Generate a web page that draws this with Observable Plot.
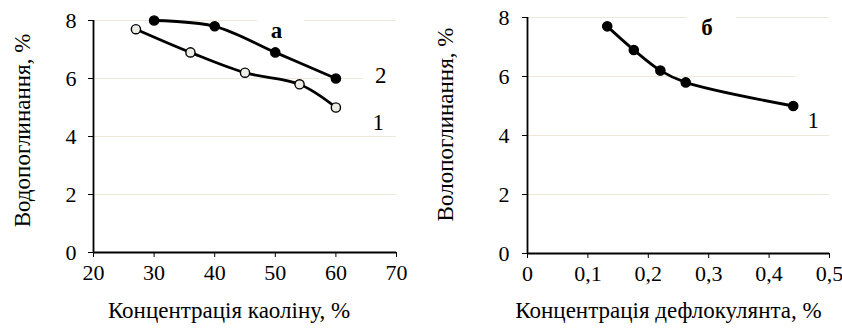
<!DOCTYPE html>
<html>
<head>
<meta charset="utf-8">
<script src="https://cdn.jsdelivr.net/npm/d3@7"></script>
<script src="https://cdn.jsdelivr.net/npm/@observablehq/plot@0.6"></script>
<style>
  html, body { margin: 0; padding: 0; background: #fff; }
  #wrap { display: flex; width: 842px; height: 329px; overflow: hidden; }
  #wrap svg { display: block; flex: none; }
</style>
</head>
<body>
<div id="wrap"></div>
<script>
// ---- Panel а: kaolin concentration ----
const kaolin1 = [27, 36, 45, 54, 60];
const water1 = [7.7, 6.9, 6.2, 5.8, 5.0];
const kaolin2 = [30, 40, 50, 60];
const water2 = [8.0, 7.8, 6.9, 6.0];
const xTicksA = [20, 30, 40, 50, 60, 70];
const yTicks = [0, 2, 4, 6, 8];

// ---- Panel б: deflocculant concentration ----
const defloc = [0.132, 0.176, 0.22, 0.262, 0.44];
const waterB = [7.7, 6.9, 6.2, 5.8, 5.0];
const xTicksB = [0, 0.1, 0.2, 0.3, 0.4, 0.5];

// axis titles
const yTitleA = "Водопоглинання, %";
const xTitleA = "Концентрація каоліну, %";
const yTitleB = "Волопоглинання, %";
const xTitleB = "Концентрація дефлокулянта, %";

// annotation labels (data units)
const labelsA = [
  {x: 50.2, y: 7.65, text: "а", bold: true},
  {x: 67.4, y: 6.1, text: "2", bold: false},
  {x: 67.0, y: 4.48, text: "1", bold: false}
];
const labelsB = [
  {x: 0.297, y: 7.67, text: "б", bold: true},
  {x: 0.473, y: 4.5, text: "1", bold: false}
];
// gridline segments (interrupted behind the label boxes)
const gridA = [
  {y: 2, x1: 20, x2: 70}, {y: 4, x1: 20, x2: 70},
  {y: 6, x1: 20, x2: 64.4},
  {y: 8, x1: 20, x2: 47.1}, {y: 8, x1: 54.8, x2: 70}
];
const gridB = [
  {y: 2, x1: 0, x2: 0.5}, {y: 4, x1: 0, x2: 0.5},
  {y: 6, x1: 0, x2: 0.444},
  {y: 8, x1: 0, x2: 0.264}, {y: 8, x1: 0.346, x2: 0.5}
];

const FONT = "Liberation Serif";
const GRID = "#ece8da";
const TICK_SIZE = 22;
const TITLE_SIZE = 23;
const LABEL_SIZE = 23;

const s1 = kaolin1.map((x, i) => ({x, y: water1[i]}));
const s2 = kaolin2.map((x, i) => ({x, y: water2[i]}));
const sB = defloc.map((x, i) => ({x, y: waterB[i]}));

const commaFmt = d => d === 0 ? "0" : d3.format(".1f")(d).replace(".", ",");

function panel(o) {
  const txt = {fontFamily: FONT, fill: "black"};
  const marks = [
    Plot.ruleY(o.grid, {y: "y", x1: "x1", x2: "x2", stroke: GRID, strokeWidth: 1.2}),
    Plot.axisY({ticks: yTicks, tickSize: 5, tickFormat: () => "", label: null}),
    Plot.axisX({ticks: o.xTicks, tickSize: 5, tickFormat: () => "", label: null}),
    Plot.ruleX([o.xDomain[0]], {stroke: "black", strokeWidth: 1.8}),
    Plot.ruleY([0], {stroke: "black", strokeWidth: 1.8}),
    // tick labels
    Plot.text(yTicks, {...txt, y: d => d, text: d => String(d), frameAnchor: "left", textAnchor: "end", dx: o.yTickDx, fontSize: TICK_SIZE}),
    Plot.text(o.xTicks, {...txt, x: d => d, text: o.xFmt, frameAnchor: "bottom", textAnchor: "middle", dy: 27, fontSize: TICK_SIZE}),
    // axis titles
    Plot.text([o.yTitle], {...txt, text: d => d, frameAnchor: "left", textAnchor: "middle", rotate: -90, dx: o.yTitleDx, dy: o.yTitleDy, fontSize: TITLE_SIZE}),
    Plot.text([o.xTitle], {...txt, text: d => d, frameAnchor: "bottom", textAnchor: "middle", dx: o.xTitleDx, dy: o.xTitleDy, fontSize: TITLE_SIZE})
  ];
  for (const s of o.series) {
    marks.push(Plot.line(s.data, {x: "x", y: "y", curve: "catmull-rom", stroke: "black", strokeWidth: 2.8}));
    marks.push(Plot.dot(s.data, {x: "x", y: "y", r: 4.6, fill: s.fill, stroke: "black", strokeWidth: 1.4}));
  }
  marks.push(Plot.text(o.labels.filter(d => d.bold), {...txt, x: "x", y: "y", text: "text", fontSize: LABEL_SIZE, fontWeight: "bold"}));
  marks.push(Plot.text(o.labels.filter(d => !d.bold), {...txt, x: "x", y: "y", text: "text", fontSize: LABEL_SIZE}));
  return Plot.plot({
    width: o.width, height: 329,
    marginLeft: o.marginLeft, marginRight: o.marginRight, marginTop: o.marginTop, marginBottom: o.marginBottom,
    style: {fontFamily: FONT, color: "black", background: "white", overflow: "visible"},
    x: {domain: o.xDomain},
    y: {domain: [0, 8]},
    marks
  });
}

const wrap = document.getElementById("wrap");
wrap.appendChild(panel({
  width: 420, marginLeft: 93, marginRight: 24, marginTop: 20, marginBottom: 77,
  xDomain: [20, 70], xTicks: xTicksA, xFmt: d => String(d),
  yTitle: yTitleA, xTitle: xTitleA,
  yTickDx: -17, yTitleDx: -71, yTitleDy: -6, xTitleDx: -16, xTitleDy: 65,
  grid: gridA,
  series: [{data: s1, fill: "#eeeee6"}, {data: s2, fill: "black"}],
  labels: labelsA
}));
wrap.appendChild(panel({
  width: 422, marginLeft: 107, marginRight: 13, marginTop: 17, marginBottom: 76,
  xDomain: [0, 0.5], xTicks: xTicksB, xFmt: commaFmt,
  yTitle: yTitleB, xTitle: xTitleB,
  yTickDx: -18, yTitleDx: -82, yTitleDy: -11, xTitleDx: -10, xTitleDy: 64,
  grid: gridB,
  series: [{data: sB, fill: "black"}],
  labels: labelsB
}));
</script>
</body>
</html>
